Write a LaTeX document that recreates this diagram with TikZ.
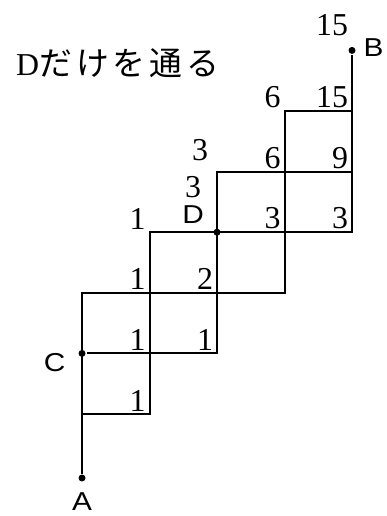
\documentclass[tikz,border=0pt]{standalone}
\usepackage{fontspec}
\setmainfont{Liberation Serif}
\newfontfamily\jpfont[LetterSpace=12]{Noto Sans CJK JP}
\newfontfamily\ptfont[FakeStretch=1.15]{Liberation Sans}
\usetikzlibrary{positioning}

\begin{document}
\begin{tikzpicture}[x=67.5bp, y=60.6bp, line width=2bp,
  dot/.style={circle, fill, inner sep=0pt, minimum size=7bp},
  cnt/.style={inner sep=0pt, font=\fontsize{32}{32}\selectfont},
  num/.style={cnt, anchor=south east, xshift=-3bp, yshift=2bp},
  pt/.style={inner sep=0pt, font=\ptfont\fontsize{26}{26}\selectfont}]
  \useasboundingbox (-1.215,-1.683) rectangle (4.504,6.832);

  % title
  \node[anchor=base west, inner sep=0pt, font=\fontsize{32}{32}\selectfont] (title) at (-0.99,5.594) {D{\jpfont\fontsize{33}{33}\selectfont だけを通る}};

  % marked points
  \node[dot] (A) at (0,-1.056) {};
  \node[dot] (B) at (4,6) {};
  \node[dot] (C) at (0,1) {};
  \node[dot] (D) at (2,3) {};
  \node[pt, below=9bp of A] (Alabel) {A};
  \node[pt, right=6bp of B, yshift=3bp] (Blabel) {B};
  \node[pt, left=11bp of C, yshift=-9bp] (Clabel) {C};
  \node[pt, above left=5bp and 9bp of D] (Dlabel) {D};

  % streets
  \draw (A) -- (0,2) -- (3,2) -- (3,5) -- (4,5);
  \draw (0,0) -- (1,0) -- (1,3) -- (4,3) -- (B);
  \draw (C) -- (2,1) -- (2,4) -- (4,4);

  % counts
  \node[num] (n10) at (1,0) {1};
  \node[num] (n11) at (1,1) {1};
  \node[num] (n21) at (2,1) {1};
  \node[num] (n12) at (1,2) {1};
  \node[num] (n22) at (2,2) {2};
  \node[num] (n13) at (1,3) {1};
  \node[cnt, above=5bp of Dlabel] (n23) {3};
  \node[num] (n33) at (3,3) {3};
  \node[num] (n43) at (4,3) {3};
  \node[num, xshift=-5bp, yshift=8bp] (n24) at (2,4) {3};
  \node[num] (n34) at (3,4) {6};
  \node[num] (n44) at (4,4) {9};
  \node[num] (n35) at (3,5) {6};
  \node[num] (n45) at (4,5) {15};
  \node[num, yshift=12bp] (n46) at (B) {15};
\end{tikzpicture}
\end{document}
